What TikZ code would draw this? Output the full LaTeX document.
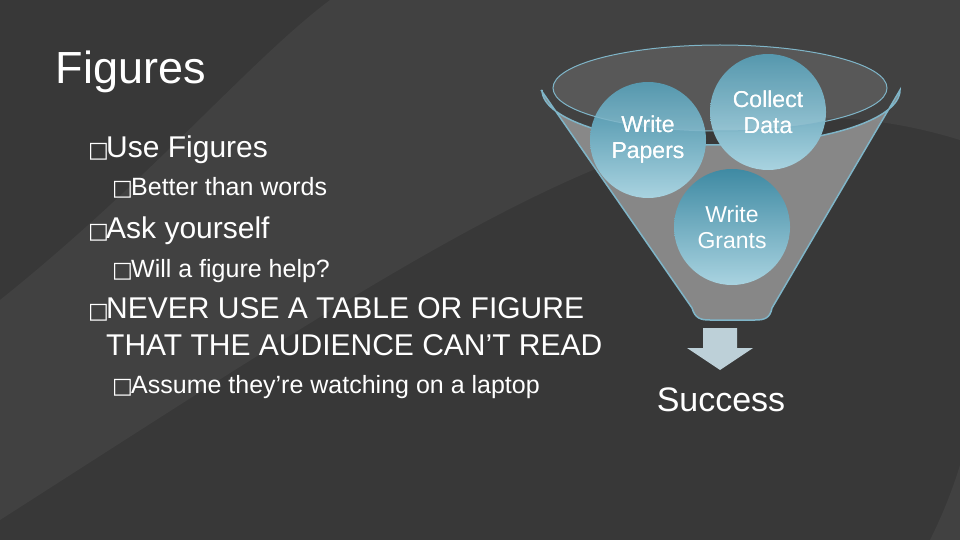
\documentclass[tikz,border=0pt]{standalone}
\usepackage{fontspec}
\setmainfont{Liberation Sans}
\newfontfamily\boxfont{DejaVu Sans}
\definecolor{bgdark}{HTML}{383838}
\definecolor{bglight}{HTML}{414141}
\definecolor{funnelgray}{HTML}{8C8C8C}
\definecolor{rimblue}{HTML}{7FB5C8}
\definecolor{balltop}{HTML}{3F8AA3}
\definecolor{ballbot}{HTML}{A9D3E0}
\definecolor{arrowblue}{HTML}{BDD0D8}
\tikzset{
  lvlone/.style={anchor=base west, text=white, font=\fontsize{30}{33}\selectfont},
  lvltwo/.style={anchor=base west, text=white, font=\fontsize{25}{28}\selectfont},
  boxmark/.style={anchor=base west, text=white, inner sep=0pt, font=\boxfont\fontsize{22}{24}\selectfont},
  ball/.style={circle, minimum size=116pt, inner sep=0pt, top color=balltop, bottom color=ballbot,
    text=white, align=center, font=\fontsize{23}{26}\selectfont},
}
\begin{document}
\begin{tikzpicture}[x=1pt,y=-1pt]
\useasboundingbox (0,0) rectangle (960,540);
\fill[bgdark] (0,0) rectangle (960,540);
\fill[bglight] (330,0) -- (960,0) -- (960,140) .. controls (700,60) and (500,200) .. (0,520) -- (0,300) .. controls (150,180) and (250,60) .. cycle;
\fill[bglight] (960,200) .. controls (1080,380) and (1000,480) .. (960,540) -- (930,540) .. controls (990,420) and (990,300) .. cycle;

% funnel
\fill[funnelgray, draw=rimblue, line width=1.5pt, fill opacity=0.95]
  (541,90) -- (692,308) .. controls (695,318) and (700,320) .. (710,320)
  -- (755,320) .. controls (765,320) and (770,318) .. (772,308) -- (900,90)
  arc[start angle=0, end angle=180, x radius=179, y radius=55];
\node[ball] (papers) at (648,140) {Write\\Papers};
\node[ball] (data) at (768,112) {Collect\\Data};
\node[ball] (grants) at (732,227) {Write\\Grants};
\fill[white, fill opacity=0.12, draw=rimblue, draw opacity=1, line width=1pt]
  (720,88) ellipse[x radius=167, y radius=43];
\node[text=white, font=\fontsize{23}{26}\selectfont, align=center] at (papers) {Write\\Papers};
\node[text=white, font=\fontsize{23}{26}\selectfont, align=center] at (data) {Collect\\Data};

% arrow
\fill[arrowblue] (703,328) -- (737,328) -- (737,348) -- (753,348) -- (720,370) -- (687,348) -- (703,348) -- cycle;
\node (success) [text=white, font=\fontsize{34}{37}\selectfont] at (721,400) {Success};

% text
\node (title) [anchor=base west, text=white, font=\fontsize{45}{50}\selectfont] at (52,84) {Figures};
\node (m1) [boxmark] at (88,158) {□};
\node (b1) [lvlone, inner xsep=0pt] at (106,158) {Use Figures};
\node (m1a) [boxmark] at (112,196) {□};
\node (b1a) [lvltwo, inner xsep=0pt] at (131,196) {Better than words};
\node (m2) [boxmark] at (88,238) {□};
\node (b2) [lvlone, inner xsep=0pt] at (106,238) {Ask yourself};
\node (m2a) [boxmark] at (112,277) {□};
\node (b2a) [lvltwo, inner xsep=0pt] at (131,277) {Will a figure help?};
\node (m3) [boxmark] at (88,318) {□};
\node (b3) [lvlone, inner xsep=0pt] at (106,318) {NEVER USE A TABLE OR FIGURE};
\node (b3b) [lvlone, inner xsep=0pt] at (106,355) {THAT THE AUDIENCE CAN’T READ};
\node (m3a) [boxmark] at (112,393) {□};
\node (b3a) [lvltwo, inner xsep=0pt] at (131,393) {Assume they’re watching on a laptop};
\end{tikzpicture}
\end{document}
